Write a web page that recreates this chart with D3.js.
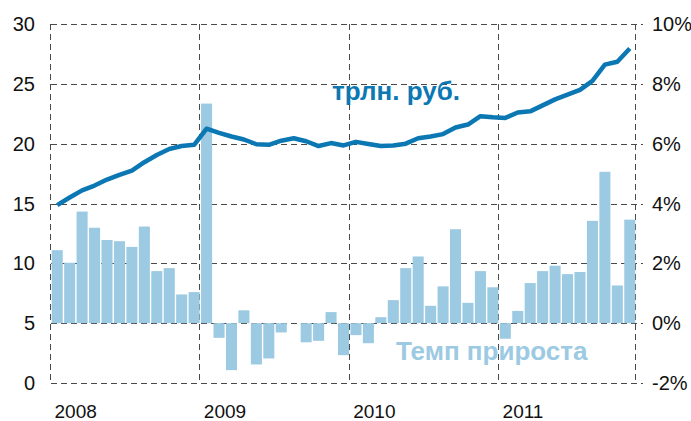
<!DOCTYPE html>
<html>
<head>
<meta charset="utf-8">
<script src="https://cdn.jsdelivr.net/npm/d3@7"></script>
<style>
    body { margin: 0; background: #fff; }
    text { font-family: "Liberation Sans", Arial, sans-serif; }
</style>
</head>
<body>
<div id="chart-area"></div>
<script>
const years = [2008, 2009, 2010, 2011];
const yearLabels = ["2008", "2009", "2010", "2011"];

// объём, трлн. руб. (левая ось), Jan 2008 - Nov 2011
const volume = [
    14.86, 15.5, 16.1, 16.5, 17.0, 17.4, 17.75, 18.45, 19.05, 19.55, 19.8, 19.9,
    21.25, 20.9, 20.6, 20.35, 19.95, 19.9, 20.25, 20.45, 20.2, 19.8, 20.05, 19.85,
    20.15, 19.97, 19.8, 19.85, 20.0, 20.45, 20.6, 20.8, 21.35, 21.6, 22.3, 22.2,
    22.15, 22.6, 22.7, 23.2, 23.7, 24.1, 24.5, 25.25, 26.6, 26.85, 27.95
];

// темп прироста, % (правая ось)
const growth = [
    2.44, 2.02, 3.73, 3.19, 2.78, 2.74, 2.55, 3.23, 1.74, 1.84, 0.96, 1.04,
    7.34, -0.49, -1.57, 0.43, -1.38, -1.18, -0.31, 0, -0.64, -0.59, 0.37, -1.07,
    -0.40, -0.67, 0.20, 0.77, 1.84, 2.23, 0.58, 1.23, 3.14, 0.68, 1.74, 1.20,
    -0.52, 0.41, 1.34, 1.74, 1.92, 1.64, 1.71, 3.42, 5.06, 1.26, 3.46
];

const leftTicks = [0, 5, 10, 15, 20, 25, 30];
const rightTicks = [-2, 0, 2, 4, 6, 8, 10];

const months = [];
years.forEach(y => d3.range(1, 13).forEach(m => months.push(`${y}-${m}`)));
const monthsUsed = months.slice(0, growth.length);

const chartSize = { width: 691, height: 421 };
const margin = { left: 51, right: 55, top: 24, bottom: 38 };
const width = chartSize.width - margin.left - margin.right;
const height = chartSize.height - margin.top - margin.bottom;

const lineColor = "#0b77b3";
const barColor = "#9ccae2";
const gridColor = "#4a4a4a";

const svg = d3.select("#chart-area")
    .append("svg")
    .attr("width", chartSize.width)
    .attr("height", chartSize.height);

const g = svg.append("g").attr("transform", `translate(${margin.left}, ${margin.top})`);

const x = d3.scaleBand().domain(monthsUsed).range([0, width]).padding(0);
const yL = d3.scaleLinear().domain([0, 30]).range([height, 0]);
const yR = d3.scaleLinear().domain([-2, 10]).range([height, 0]);

// сетка
const grid = g.append("g")
    .attr("stroke", gridColor)
    .attr("stroke-width", 1)
    .attr("stroke-dasharray", "6,4")
    .attr("fill", "none");

grid.selectAll(".hline").data(leftTicks).enter()
    .append("line")
    .attr("x1", 0).attr("x2", width + 7)
    .attr("y1", d => Math.round(yL(d)) + 0.5)
    .attr("y2", d => Math.round(yL(d)) + 0.5);

const vlines = [0].concat(years.slice(1).map(y => x(`${y}-1`)), [width]);
grid.selectAll(".vline").data(vlines).enter()
    .append("line")
    .attr("x1", d => Math.round(d) - 0.5).attr("x2", d => Math.round(d) - 0.5)
    .attr("y1", 0).attr("y2", height);

// столбцы
g.append("g").selectAll("rect").data(growth).enter()
    .append("rect")
    .attr("x", (d, i) => x(monthsUsed[i]) + 0.7)
    .attr("width", x.bandwidth() - 1.4)
    .attr("y", d => yR(Math.max(0, d)))
    .attr("height", d => Math.abs(yR(d) - yR(0)))
    .attr("fill", barColor);

// линия
const line = d3.line()
    .x((d, i) => x(monthsUsed[i]) + x.bandwidth() / 2)
    .y(d => yL(d));

g.append("path")
    .datum(volume)
    .attr("d", line)
    .attr("fill", "none")
    .attr("stroke", lineColor)
    .attr("stroke-width", 4.5)
    .attr("stroke-linejoin", "round");

// оси
g.selectAll(".ltick").data(leftTicks).enter()
    .append("text")
    .text(d => d)
    .attr("x", -16)
    .attr("y", d => yL(d))
    .attr("dy", "0.35em")
    .attr("text-anchor", "end")
    .attr("font-size", 20)
    .attr("fill", "#111");

g.selectAll(".rtick").data(rightTicks).enter()
    .append("text")
    .text(d => `${d}%`)
    .attr("x", width + 16)
    .attr("y", d => yR(d))
    .attr("dy", "0.35em")
    .attr("text-anchor", "start")
    .attr("font-size", 20)
    .attr("fill", "#111");

g.selectAll(".year").data(years).enter()
    .append("text")
    .text((d, i) => yearLabels[i])
    .attr("x", d => x(`${d}-1`) + 3.5)
    .attr("y", height + 35)
    .attr("font-size", 19)
    .attr("fill", "#111");

// подписи рядов
g.append("text")
    .text("трлн. руб.")
    .attr("x", 332 - margin.left)
    .attr("y", 100 - margin.top)
    .attr("font-size", 26)
    .attr("font-weight", "bold")
    .attr("fill", lineColor);

g.append("text")
    .text("Темп прироста")
    .attr("x", 396 - margin.left)
    .attr("y", 360 - margin.top)
    .attr("font-size", 26)
    .attr("font-weight", "bold")
    .attr("fill", barColor);
</script>
</body>
</html>
